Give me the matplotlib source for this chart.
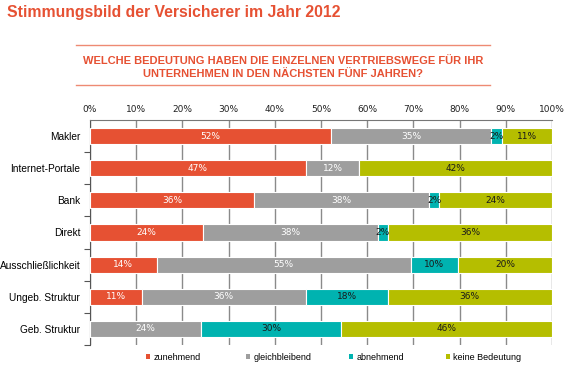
import numpy as np
import matplotlib.pyplot as plt
from matplotlib.ticker import MultipleLocator, FixedLocator, PercentFormatter

# Survey data (percent of respondents)
categories = ["Makler", "Internet-Portale", "Bank", "Direkt",
              "Ausschließlichkeit", "Ungeb. Struktur", "Geb. Struktur"]
series_names = ["zunehmend", "gleichbleibend", "abnehmend", "keine Bedeutung"]
zunehmend = [52.2, 46.7, 35.5, 24.5, 14.4, 11.2, 0.0]
gleichbleibend = [34.7, 11.6, 37.9, 37.8, 55.0, 35.5, 24.0]
abnehmend = [2.2, 0.0, 2.2, 2.2, 10.2, 17.7, 30.3]
keine_bedeutung = [10.9, 41.8, 24.4, 35.5, 20.4, 35.6, 45.7]

RED = "#E65133"
COLORS = [RED, "#9E9E9E", "#00B3B0", "#B5BE00"]
LABEL_COLORS = ["white", "white", "#1a1a1a", "#1a1a1a"]
LEGEND_X = [146, 246, 349, 446]   # left edge of each legend entry, px

plt.rcParams["font.family"] = ["Liberation Sans", "DejaVu Sans"]

fig = plt.figure(figsize=(5.7, 3.7), dpi=100)

fig.text(7 / 570, 1 - 12.5 / 370, "Stimmungsbild der Versicherer im Jahr 2012",
         color=RED, fontsize=11.3, fontweight="bold", va="center", ha="left")

# subtitle framed by two thin lines
for yl in (44.5, 84.5):
    fig.add_artist(plt.Line2D([76 / 570, 490 / 570], [1 - yl / 370, 1 - yl / 370],
                              color="#EE8A73", lw=1.0))
fig.text(283 / 570, 1 - 67.5 / 370,
         "WELCHE BEDEUTUNG HABEN DIE EINZELNEN VERTRIEBSWEGE FÜR IHR\n"
         "UNTERNEHMEN IN DEN NÄCHSTEN FÜNF JAHREN?",
         color=RED, fontsize=8, fontweight="bold", ha="center", va="center",
         linespacing=1.4)

ax = fig.add_axes([90 / 570, 1 - 345 / 370, 462 / 570, 225 / 370])

values = [zunehmend, gleichbleibend, abnehmend, keine_bedeutung]
y = np.arange(len(categories))
left = np.zeros(len(categories))
handles = []
for name, vals, col, tcol in zip(series_names, values, COLORS, LABEL_COLORS):
    vals = np.array(vals)
    bars = ax.barh(y, vals, left=left, height=0.5, color=col, edgecolor="white",
                   linewidth=0.8, label=name, zorder=3)
    handles.append(bars)
    for yi, l, v in zip(y, left, vals):
        if v > 0:
            ax.text(l + v / 2, yi, f"{v:.0f}%", ha="center", va="center",
                    color=tcol, fontsize=6.5, family="DejaVu Sans", zorder=4)
    left += vals

ax.set_xlim(0, 100)
ax.set_ylim(6.5, -0.5)

ax.xaxis.set_major_locator(MultipleLocator(10))
ax.xaxis.set_major_formatter(PercentFormatter(decimals=0))
ax.xaxis.tick_top()
ax.tick_params(axis="x", direction="in", length=0, labelsize=6.5, pad=4,
               labelfontfamily="DejaVu Sans", colors="#222222")
ax.grid(axis="x", color="#8a8a8a", lw=1.0, zorder=1)

ax.set_yticks(y)
ax.set_yticklabels(categories, fontsize=7.3)
ax.yaxis.set_minor_locator(FixedLocator(np.arange(0.5, 7, 1)))
ax.tick_params(axis="y", which="major", length=0, pad=7)
ax.tick_params(axis="y", which="minor", length=4, width=0.8, color="#555555")

for s in ("right", "bottom"):
    ax.spines[s].set_visible(False)
ax.spines["top"].set_color("#777777")
ax.spines["left"].set_color("#555555")
ax.spines["top"].set_linewidth(0.8)
ax.spines["left"].set_linewidth(0.8)

# one small legend per entry so the entries sit at even spacing
for h, name, lx in zip(handles, series_names, LEGEND_X):
    leg = fig.legend([h], [name], loc="center left",
                     bbox_to_anchor=(lx / 570, 1 - 357 / 370),
                     frameon=False, fontsize=6.5, handlelength=0.45,
                     handleheight=0.45, handletextpad=0.35, borderpad=0,
                     borderaxespad=0)
    leg.legend_handles[0].set_edgecolor("none")

fig.savefig("out.png", dpi=100)
